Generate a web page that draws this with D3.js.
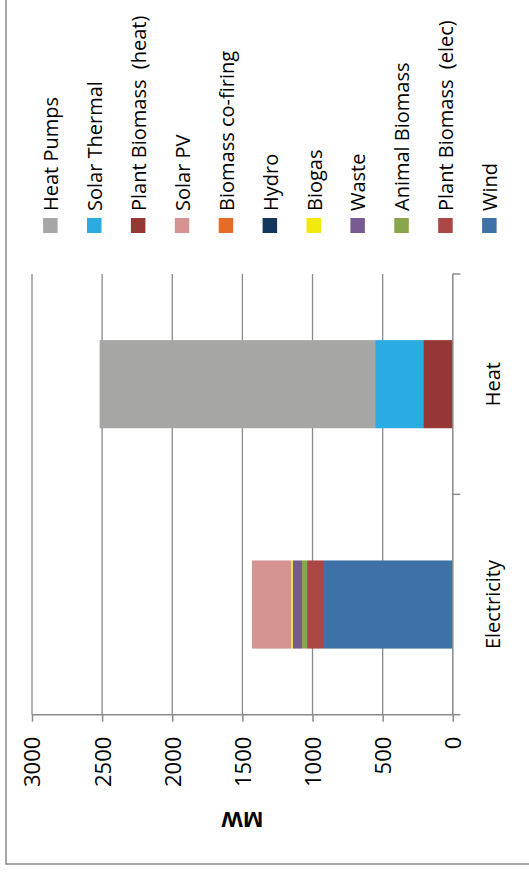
<!DOCTYPE html>
<html>
<head>
<meta charset="utf-8">
<script src="https://cdn.jsdelivr.net/npm/d3@7"></script>
<style>
  html, body { margin: 0; padding: 0; background: #fff; }
  svg { display: block; }
  text { font-family: "Open Sans", sans-serif; fill: #000; white-space: pre; }
</style>
</head>
<body>
<script>
// ---- data ----
const categories = ["Electricity", "Heat"];
const seriesNames = ["Wind", "Plant Biomass  (elec)", "Animal Biomass", "Waste", "Biogas", "Hydro",
  "Biomass co-firing", "Solar PV", "Plant Biomass  (heat)", "Solar Thermal", "Heat Pumps"];
const seriesColors = ["#3d71a7", "#aa4644", "#8aa64d", "#765a91", "#f3e80b", "#12365d",
  "#e46c26", "#d59392", "#953735", "#2aace2", "#a6a6a5"];
const electricityValues = [918, 121, 36, 66, 12, 0, 0, 279, 0, 0, 0];
const heatValues = [0, 0, 0, 0, 0, 0, 0, 0, 211, 343, 1964];
const valueTicks = [0, 500, 1000, 1500, 2000, 2500, 3000];
const axisTitle = "MW";

// ---- layout (drawn unrotated, then the whole chart turned -90deg) ----
const W = 529, H = 881;          // page
const svg = d3.select("body").append("svg").attr("width", W).attr("height", H);
const g = svg.append("g").attr("transform", `translate(0,${H}) rotate(-90)`);

// chart border
g.append("rect").attr("x", 17).attr("y", 6).attr("width", 1000).attr("height", 1000)
  .attr("fill", "none").attr("stroke", "#8a8a8a").attr("stroke-width", 1.5);

const plotL = 166.3, plotR = 607;
const x = d3.scaleBand().domain(categories).range([plotL, plotR]).padding(0);
const y = d3.scaleLinear().domain([0, 3000]).range([452.8, 32]);

// gridlines
g.append("g").selectAll("line").data(valueTicks.filter(d => d > 0)).join("line")
  .attr("x1", plotL).attr("x2", plotR)
  .attr("y1", d => y(d)).attr("y2", d => y(d))
  .attr("stroke", "#8a8a8a").attr("stroke-width", 1.3);

// stacked data
const rows = categories.map((c, i) => {
  const vals = i === 0 ? electricityValues : heatValues;
  const o = { cat: c };
  seriesNames.forEach((s, j) => o[s] = vals[j]);
  return o;
});
const stack = d3.stack().keys(seriesNames)(rows);
const barW = x.bandwidth() * 0.4;

g.append("g").selectAll("g").data(stack).join("g")
  .attr("fill", (d, i) => seriesColors[i])
  .selectAll("rect").data(d => d).join("rect")
  .attr("x", d => x(d.data.cat) + (x.bandwidth() - barW) / 2)
  .attr("width", barW)
  .attr("y", d => y(d[1]))
  .attr("height", d => y(d[0]) - y(d[1]));

// value axis
const yAxis = g.append("g").attr("transform", `translate(${plotL},0)`)
  .call(d3.axisLeft(y).tickValues(valueTicks).tickFormat(d3.format("d"))
    .tickSize(7).tickSizeOuter(0).tickPadding(15));
yAxis.select(".domain").attr("stroke", "#8a8a8a").attr("stroke-width", 1.5)
  .attr("d", `M0,${y(0) + 1.5}V${y(3000)}`);
yAxis.selectAll(".tick line").attr("stroke", "#8a8a8a").attr("stroke-width", 1.5);
yAxis.selectAll(".tick text").style("font-size", "22px").attr("fill", "#000")
  .style("font-family", '"Open Sans", sans-serif').attr("dy", "0.36em");

// category axis
g.append("line").attr("x1", plotL).attr("x2", plotR).attr("y1", y(0)).attr("y2", y(0))
  .attr("stroke", "#8a8a8a").attr("stroke-width", 1.5);
const bounds = [plotL, ...categories.map(c => x(c) + x.bandwidth())];
g.append("g").selectAll("line").data(bounds).join("line")
  .attr("x1", d => d).attr("x2", d => d)
  .attr("y1", y(0)).attr("y2", y(0) + 7.5)
  .attr("stroke", "#8a8a8a").attr("stroke-width", 1.5);
g.append("g").selectAll("text").data(categories).join("text")
  .attr("x", d => x(d) + x.bandwidth() / 2)
  .attr("y", 500)
  .attr("text-anchor", "middle")
  .style("font-size", "20px")
  .text(d => d);

// axis title (rotated -90 in its own frame)
g.append("text")
  .attr("transform", `translate(69,${(y(0) + y(3000)) / 2}) rotate(-90)`)
  .attr("text-anchor", "middle")
  .style("font-size", "22px").style("font-weight", "bold")
  .text(axisTitle);

// legend (series listed top to bottom in reverse stack order)
const legendOrder = seriesNames.map((s, i) => i).reverse();
const leg = g.append("g").selectAll("g").data(legendOrder).join("g")
  .attr("transform", (d, k) => `translate(648,${50.6 + 43.9 * k})`);
leg.append("rect").attr("x", 0).attr("y", -7.5).attr("width", 15).attr("height", 14.5)
  .attr("fill", d => seriesColors[d]);
leg.append("text").attr("x", 22).attr("y", 7.5)
  .style("font-size", "20px")
  .text(d => seriesNames[d]);
</script>
</body>
</html>
